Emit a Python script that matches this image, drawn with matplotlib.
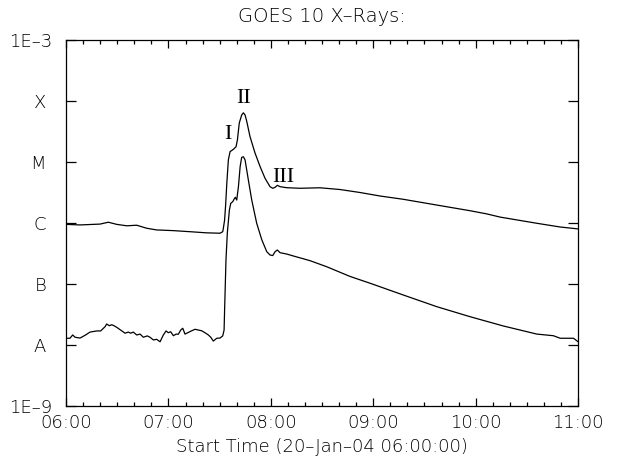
import matplotlib
matplotlib.use("Agg")
import matplotlib.pyplot as plt
import numpy as np

# minutes after 06:00 UT, flux in W/m^2
long_time = [0, 8.2, 19.9, 24.8, 29.7, 35.6, 41.4, 47.3, 53.1, 62.9, 72.7, 82.4,
             90.2, 91.8, 92.2, 92.9, 93.5, 94.2, 95.1, 96.1, 98.0, 99.6, 100.4,
             101.5, 102.9, 103.9, 104.9, 105.9, 107.8, 110.7, 113.7, 116.6, 119.5,
             121.1, 122.5, 123.8, 125.4, 129.3, 137.1, 148.8, 160.5, 172.3, 184.0,
             197.5, 217.2, 236.7, 246.5, 254.3, 275.8, 289.5, 300]
long_flux = [9.5e-7, 9.3e-7, 9.6e-7, 1.03e-6, 9.5e-7, 9.0e-7, 9.2e-7, 8.2e-7, 7.7e-7,
             7.5e-7, 7.2e-7, 6.9e-7, 6.8e-7, 7.2e-7, 8.3e-7, 1.12e-6, 1.97e-6, 4.5e-6,
             1.08e-5, 1.48e-5, 1.61e-5, 1.78e-5, 2.30e-5, 4.36e-5, 5.9e-5, 6.4e-5,
             5.9e-5, 4.6e-5, 2.60e-5, 1.41e-5, 8.4e-6, 5.4e-6, 3.94e-6, 3.71e-6,
             3.85e-6, 4.15e-6, 3.94e-6, 3.79e-6, 3.71e-6, 3.78e-6, 3.54e-6, 3.16e-6,
             2.77e-6, 2.45e-6, 1.97e-6, 1.59e-6, 1.41e-6, 1.25e-6, 9.9e-7, 8.6e-7, 8.0e-7]

short_time = [0, 2.3, 3.9, 5.3, 8.2, 11.1, 14.1, 18.0, 20.3, 22.9, 23.8, 25.4, 26.8,
              28.1, 29.7, 32.6, 34.6, 36.5, 37.9, 39.4, 41.4, 43.4, 45.3, 47.6, 49.2,
              51.2, 53.1, 55.1, 57.0, 58.6, 59.9, 61.3, 62.9, 64.5, 65.8, 67.2, 68.4,
              69.7, 71.3, 73.6, 75.6, 77.5, 79.5, 81.4, 83.4, 84.8, 86.3, 88.3, 90.2,
              91.8, 92.6, 92.9, 93.3, 93.7, 94.5, 95.7, 96.5, 97.7, 98.4, 99.2, 100.0,
              101.0, 102.0, 102.9, 103.9, 104.9, 106.8, 108.8, 111.7, 114.7, 117.6,
              119.5, 121.1, 122.5, 123.8, 125.4, 129.3, 133.2, 143.0, 152.7, 166.4,
              178.1, 197.6, 217.2, 236.7, 256.2, 275.8, 285.5, 289.5, 297.3, 300]
short_flux = [1.29e-8, 1.29e-8, 1.46e-8, 1.34e-8, 1.30e-8, 1.44e-8, 1.63e-8, 1.70e-8,
              1.70e-8, 2.0e-8, 2.21e-8, 2.07e-8, 2.15e-8, 2.07e-8, 1.95e-8, 1.71e-8,
              1.56e-8, 1.63e-8, 1.56e-8, 1.63e-8, 1.46e-8, 1.51e-8, 1.34e-8, 1.41e-8,
              1.34e-8, 1.21e-8, 1.24e-8, 1.13e-8, 1.46e-8, 1.70e-8, 1.59e-8, 1.65e-8,
              1.42e-8, 1.51e-8, 1.50e-8, 1.76e-8, 1.88e-8, 1.51e-8, 1.59e-8, 1.71e-8,
              1.81e-8, 1.76e-8, 1.71e-8, 1.59e-8, 1.46e-8, 1.34e-8, 1.16e-8, 1.29e-8,
              1.30e-8, 1.41e-8, 1.76e-8, 3.75e-8, 9.6e-8, 2.47e-7, 6.9e-7, 1.63e-6,
              2.10e-6, 2.24e-6, 2.45e-6, 2.64e-6, 2.38e-6, 3.94e-6, 8.4e-6, 1.19e-5,
              1.22e-5, 1.08e-5, 5.1e-6, 2.38e-6, 9.9e-7, 5.3e-7, 3.39e-7, 2.99e-7,
              2.93e-7, 3.39e-7, 3.61e-7, 3.26e-7, 3.10e-7, 2.88e-7, 2.41e-7, 1.92e-7,
              1.33e-7, 1.03e-7, 6.6e-8, 4.25e-8, 2.91e-8, 2.05e-8, 1.51e-8, 1.42e-8,
              1.29e-8, 1.29e-8, 1.13e-8]

x_ticks = [0, 60, 120, 180, 240, 300]
x_labels = ["06:00", "07:00", "08:00", "09:00", "10:00", "11:00"]
y_ticks = [1e-9, 1e-8, 1e-7, 1e-6, 1e-5, 1e-4, 1e-3]
y_labels = ["1E\u20139", "A ", "B ", "C ", "M ", "X ", "1E\u20133"]

# phase labels
phase_names = ["I", "II", "III"]
phase_time = [94.9, 104.3, 127.1]
phase_flux = [2.8e-5, 1.12e-4, 5.5e-6]

fig = plt.figure(figsize=(6.17, 4.61), dpi=100)
ax = fig.add_axes([0.107, 0.1193, 0.83, 0.7939])

ax.plot(long_time, long_flux, color="black", lw=0.9)
ax.plot(short_time, short_flux, color="black", lw=0.9)

ax.set_yscale("log")
ax.set_xlim(0, 300)
ax.set_ylim(1e-9, 1e-3)

ax.set_xticks(x_ticks)
ax.set_xticklabels(x_labels, fontsize=13, fontweight="light", color="black")
ax.set_xticks(np.arange(0, 301, 10), minor=True)
ax.set_yticks(y_ticks)
ax.set_yticklabels(y_labels, fontsize=13, fontweight="light", color="black")
ax.yaxis.set_minor_locator(matplotlib.ticker.NullLocator())

ax.tick_params(axis="x", which="major", direction="in", length=5.5, width=0.9,
               top=True, pad=6)
ax.tick_params(axis="x", which="minor", direction="in", length=3, width=0.9, top=True)
ax.tick_params(axis="y", which="major", direction="in", length=7, width=0.9,
               right=True, pad=10)
for s in ax.spines.values():
    s.set_linewidth(0.9)

for name, t, f in zip(phase_names, phase_time, phase_flux):
    ax.text(t, f, name, family="Liberation Serif", fontsize=16,
            ha="center", va="center")

ax.set_title("GOES 10 X\u2013Rays:", fontsize=14, fontweight="light", pad=13)
ax.set_xlabel("Start Time (20\u2013Jan\u201304 06:00:00)", fontsize=13,
              fontweight="light", labelpad=4)

fig.savefig("out.png", dpi=100)
